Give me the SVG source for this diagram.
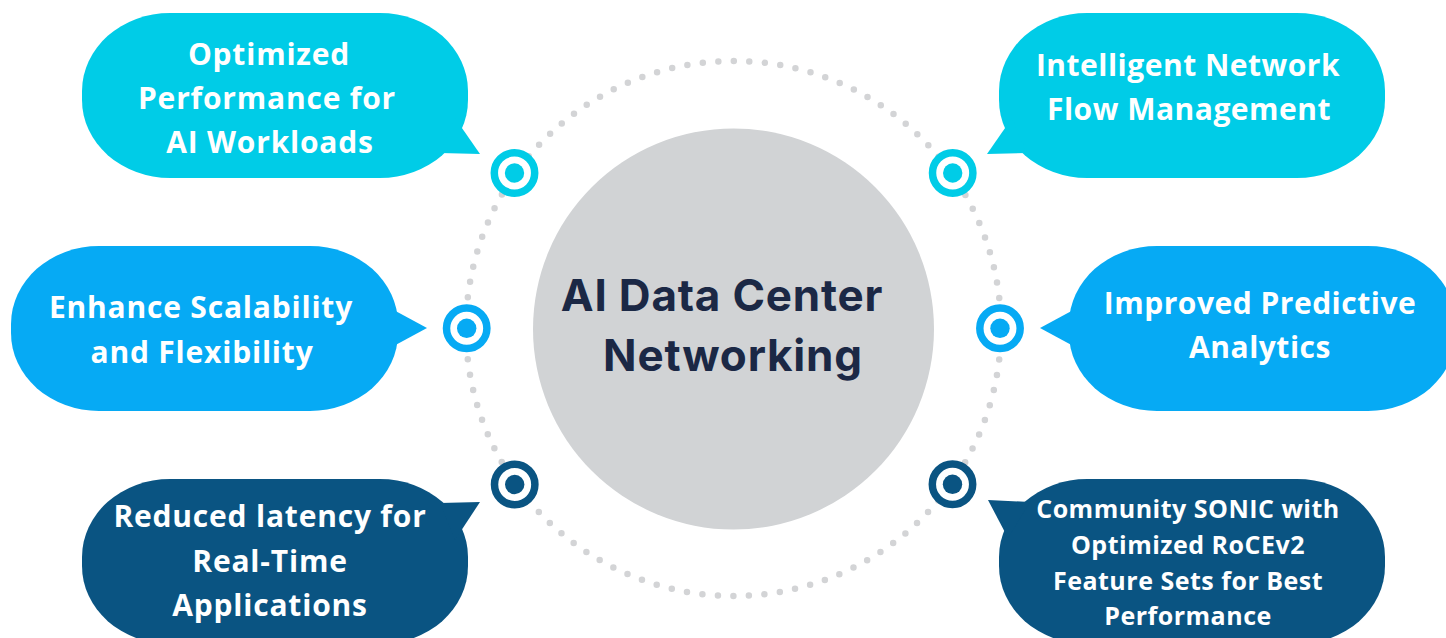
<svg xmlns="http://www.w3.org/2000/svg" width="1446" height="638" viewBox="0 0 1446 638">
<style>
.cyan{fill:#00CCE7}
.blue{fill:#06AAF4}
.navy{fill:#0A5482}
.lt{font-family:"Open Sans","Liberation Sans",sans-serif;font-weight:700;font-size:30px;letter-spacing:0.8px;fill:#ffffff;text-anchor:middle}
.rt{font-family:"Open Sans","Liberation Sans",sans-serif;font-weight:700;font-size:30px;letter-spacing:0.5px;fill:#ffffff;text-anchor:middle}
.rs{font-family:"Open Sans","Liberation Sans",sans-serif;font-weight:700;font-size:25px;letter-spacing:0.5px;fill:#ffffff;text-anchor:middle}
.ct{font-family:Inter,"Liberation Sans",sans-serif;font-weight:700;font-size:44px;letter-spacing:0.8px;fill:#1B2845;text-anchor:middle}
.ring{fill:#ffffff;stroke-width:7.5}
</style>
<g id="connectors">
<circle cx="733.5" cy="328.5" r="267.5" fill="none" stroke="#D3D4D6" stroke-width="6.5" stroke-linecap="round" stroke-dasharray="0 15.56"/>
</g>
<g id="center">
<circle cx="733.5" cy="329" r="200.5" fill="#D1D3D5"/>
<text class="ct" x="722" y="311">AI Data Center</text>
<text class="ct" x="733" y="371">Networking</text>
</g>
<g id="marker-tl"><circle class="ring" cx="514.5" cy="173" r="20.2" stroke="#00CCE7"/><circle cx="514.5" cy="173" r="9.7" class="cyan"/></g>
<g id="marker-tr"><circle class="ring" cx="952.7" cy="173" r="20.2" stroke="#00CCE7"/><circle cx="952.7" cy="173" r="9.7" class="cyan"/></g>
<g id="marker-ml"><circle class="ring" cx="466.7" cy="328.3" r="20.2" stroke="#06AAF4"/><circle cx="466.7" cy="328.3" r="9.7" class="blue"/></g>
<g id="marker-mr"><circle class="ring" cx="1000" cy="328.3" r="20.2" stroke="#06AAF4"/><circle cx="1000" cy="328.3" r="9.7" class="blue"/></g>
<g id="marker-bl"><circle class="ring" cx="514.7" cy="484.5" r="20.2" stroke="#0A5482"/><circle cx="514.7" cy="484.5" r="9.7" class="navy"/></g>
<g id="marker-br"><circle class="ring" cx="952.5" cy="484.3" r="20.2" stroke="#0A5482"/><circle cx="952.5" cy="484.3" r="9.7" class="navy"/></g>
<g id="bubble-tl">
<rect class="cyan" x="82" y="13" width="386" height="165" rx="88" ry="78"/>
<polygon class="cyan" points="455,118 480,154 440,153"/>
<text class="lt" x="269" y="65">Optimized</text>
<text class="lt" x="267" y="109">Performance for</text>
<text class="lt" x="270" y="153">AI Workloads</text>
</g>
<g id="bubble-ml">
<rect class="blue" x="11" y="246" width="387" height="165" rx="88" ry="78"/>
<polygon class="blue" points="390,308 427,328 390,348"/>
<text class="lt" x="201" y="318">Enhance Scalability</text>
<text class="lt" x="202" y="363">and Flexibility</text>
</g>
<g id="bubble-bl">
<rect class="navy" x="82" y="479" width="386" height="165" rx="88" ry="78"/>
<polygon class="navy" points="440,503 480,502 455,540"/>
<text class="lt" x="270" y="527">Reduced latency for</text>
<text class="lt" x="270" y="572">Real-Time</text>
<text class="lt" x="270" y="616">Applications</text>
</g>
<g id="bubble-tr">
<rect class="cyan" x="999" y="13" width="386" height="165" rx="88" ry="78"/>
<polygon class="cyan" points="1012,118 987,154 1027,153"/>
<text class="rt" x="1188" y="76">Intelligent Network</text>
<text class="rt" x="1189" y="120">Flow Management</text>
</g>
<g id="bubble-mr">
<rect class="blue" x="1069" y="246" width="387" height="165" rx="88" ry="78"/>
<polygon class="blue" points="1077,308 1040,328 1077,348"/>
<text class="rt" x="1260" y="314">Improved Predictive</text>
<text class="rt" x="1260" y="358">Analytics</text>
</g>
<g id="bubble-br">
<rect class="navy" x="999" y="479" width="386" height="165" rx="88" ry="78"/>
<polygon class="navy" points="988,500 1030,502 1008,538"/>
<text class="rs" x="1188" y="518">Community SONIC with</text>
<text class="rs" x="1188" y="554">Optimized RoCEv2</text>
<text class="rs" x="1188" y="590">Feature Sets for Best</text>
<text class="rs" x="1188" y="625">Performance</text>
</g>
</svg>
